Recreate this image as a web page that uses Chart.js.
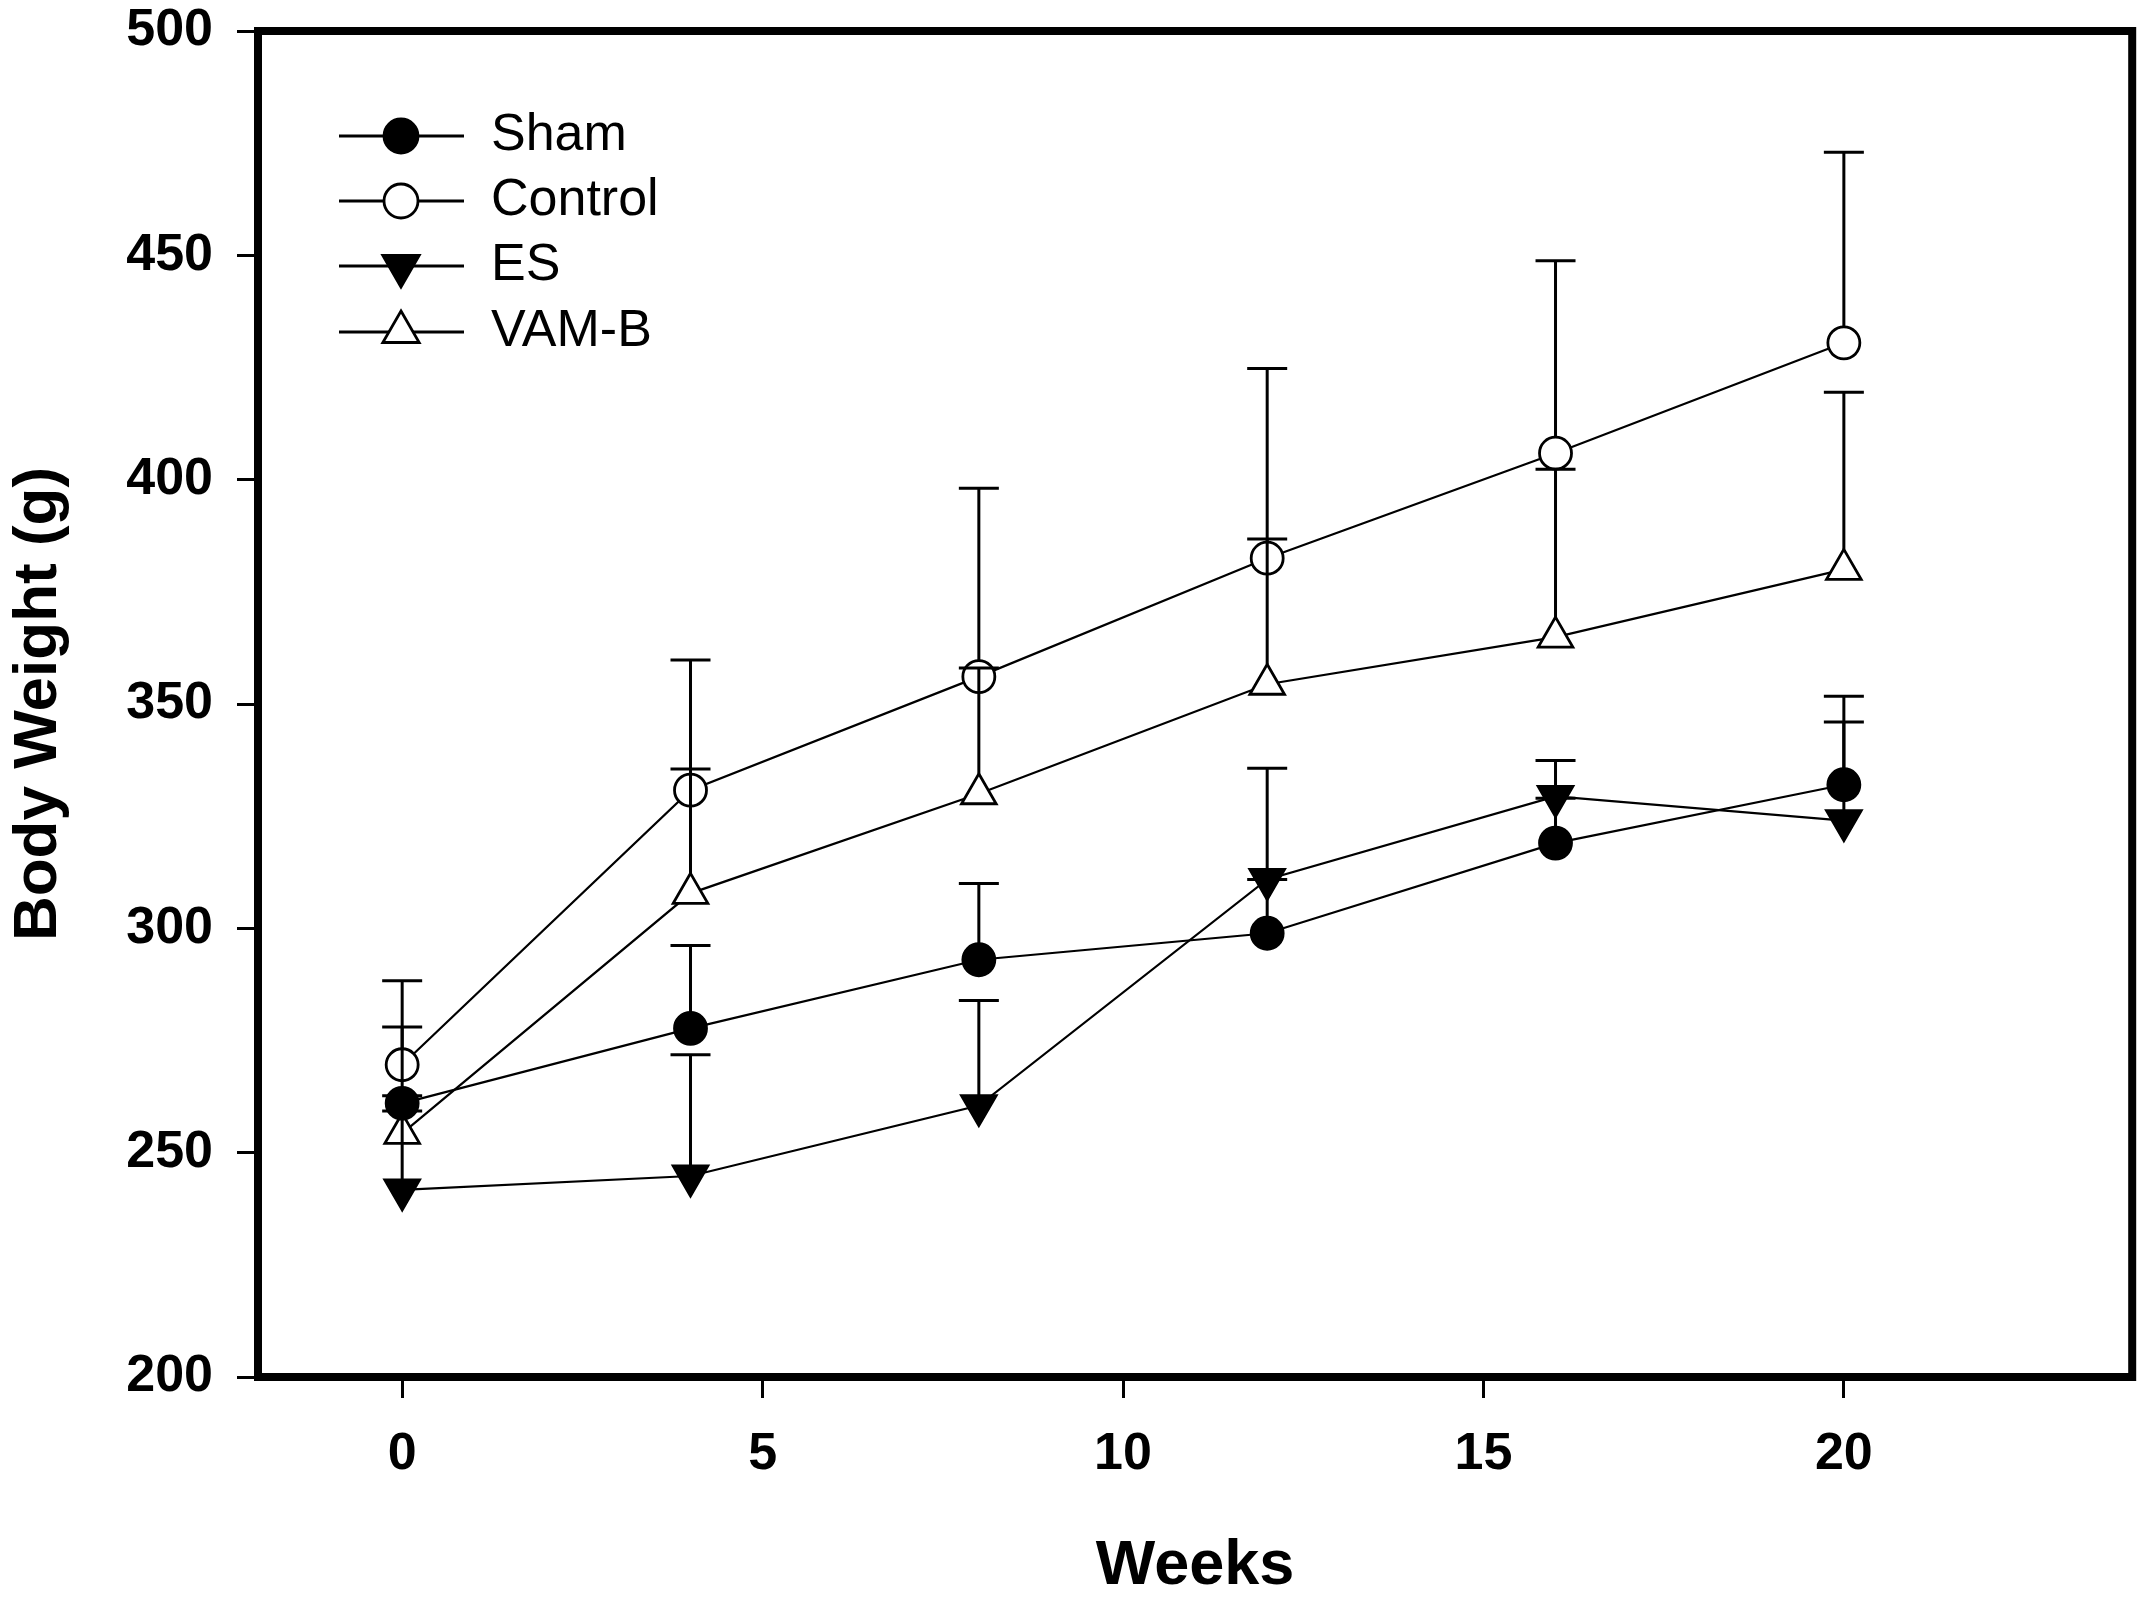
<!DOCTYPE html>
<html>
<head>
<meta charset="utf-8">
<script src="https://cdn.jsdelivr.net/npm/chart.js@4/dist/chart.umd.min.js"></script>
<style>
  html, body { margin: 0; padding: 0; background: #fff; }
  canvas { display: block; }
</style>
</head>
<body>
<canvas id="weightChart" width="2155" height="1604"></canvas>
<script>
// DATA
const weeks = [0, 4, 8, 12, 16, 20];
const seriesNames = ['Sham', 'Control', 'ES', 'VAM-B'];

const sham    = [261.0, 277.7, 293.0, 298.9, 319.0, 332.0];
const control = [269.6, 330.8, 356.1, 382.5, 405.9, 430.5];
const es      = [241.7, 244.8, 260.5, 310.9, 329.4, 324.0];
const vamb    = [254.3, 307.8, 330.0, 354.4, 364.9, 380.0];

// upper error (SEM), only the upper half is drawn
const shamErr    = [17.0, 18.5, 17.0, 12.0, 10.0, 19.7];
const controlErr = [18.7, 29.0, 42.0, 42.3, 42.9, 42.5];
const esErr      = [21.0, 27.0, 23.4, 24.8, 8.0, 22.0];
const vambErr    = [5.0, 27.7, 28.0, 32.4, 37.4, 39.5];

const xTicks = [0, 5, 10, 15, 20];
const yTicks = [200, 250, 300, 350, 400, 450, 500];

const FONT = "'Liberation Sans', Arial, sans-serif";

function pts(vals) {
  return vals.map((v, i) => ({ x: weeks[i], y: v }));
}

function series(label, vals, err, style, fill, radius, rotation, gap) {
  return {
    label: label,
    data: pts(vals),
    errors: err,
    barGap: gap,
    borderColor: '#000',
    borderWidth: 2.2,
    backgroundColor: fill,
    pointStyle: style,
    pointRadius: radius,
    pointHoverRadius: radius,
    pointRotation: rotation,
    pointBorderColor: '#000',
    pointBackgroundColor: fill,
    pointBorderWidth: 2.8,
    tension: 0,
    fill: false
  };
}

// ERROR BARS (upper only, drawn from the marker edge up to the cap)
const errorBars = {
  id: 'errorBars',
  afterDatasetsDraw(chart) {
    const ctx = chart.ctx;
    const xs = chart.scales.x, ys = chart.scales.y;
    ctx.save();
    ctx.strokeStyle = '#000';
    ctx.lineWidth = 3;
    ctx.lineCap = 'butt';
    chart.data.datasets.forEach(ds => {
      ds.data.forEach((p, j) => {
        const e = ds.errors[j];
        const x = xs.getPixelForValue(p.x);
        const y0 = ys.getPixelForValue(p.y) - ds.barGap;
        const y1 = ys.getPixelForValue(p.y + e);
        ctx.beginPath();
        if (y1 < y0) {
          ctx.moveTo(x, y0);
          ctx.lineTo(x, y1);
        }
        ctx.moveTo(x - 20, y1);
        ctx.lineTo(x + 20, y1);
        ctx.stroke();
      });
    });
    ctx.restore();
  }
};

// FRAME round the plot area
const frame = {
  id: 'frame',
  afterDraw(chart) {
    const { ctx, chartArea: a } = chart;
    ctx.save();
    ctx.strokeStyle = '#000';
    ctx.lineWidth = 8;
    ctx.lineJoin = 'miter';
    ctx.strokeRect(a.left, a.top, a.right - a.left, a.bottom - a.top);
    ctx.restore();
  }
};

// LEGEND (line - marker - line, inside the top left corner)
const insideLegend = {
  id: 'insideLegend',
  afterDraw(chart) {
    const ctx = chart.ctx;
    const rows = [136, 201, 266, 332];
    ctx.save();
    chart.data.datasets.forEach((ds, i) => {
      const y = rows[i];
      ctx.strokeStyle = '#000';
      ctx.lineWidth = 3;
      ctx.beginPath();
      ctx.moveTo(339, y);
      ctx.lineTo(464, y);
      ctx.stroke();
      ctx.fillStyle = ds.pointBackgroundColor;
      ctx.strokeStyle = '#000';
      ctx.lineWidth = 2.8;
      Chart.helpers.drawPoint(ctx, {
        pointStyle: ds.pointStyle,
        rotation: ds.pointRotation,
        radius: ds.pointRadius + 1,
        borderWidth: 2.8
      }, 401, y);
      ctx.fillStyle = '#000';
      ctx.font = '52px ' + FONT;
      ctx.textAlign = 'left';
      ctx.textBaseline = 'middle';
      ctx.fillText(seriesNames[i], 491, y);
    });
    ctx.restore();
  }
};

const ctx = document.getElementById('weightChart').getContext('2d');
new Chart(ctx, {
  type: 'line',
  data: {
    datasets: [
      series(seriesNames[0], sham, shamErr, 'circle', '#000', 16, 0, 16),
      series(seriesNames[1], control, controlErr, 'circle', '#fff', 16, 0, 16),
      series(seriesNames[2], es, esErr, 'triangle', '#000', 20, 180, 10),
      series(seriesNames[3], vamb, vambErr, 'triangle', '#fff', 20, 0, 20)
    ]
  },
  options: {
    responsive: false,
    devicePixelRatio: 1,
    animation: false,
    events: [],
    layout: { padding: { top: 31, right: 17, left: 0, bottom: 0 } },
    plugins: {
      legend: { display: false },
      tooltip: { enabled: false }
    },
    scales: {
      x: {
        type: 'linear',
        min: -2,
        max: 24,
        afterBuildTicks: s => { s.ticks = xTicks.map(v => ({ value: v })); },
        afterFit: s => { s.height = 227; s.paddingLeft = 0; s.paddingRight = 0; },
        border: { display: false },
        grid: {
          drawOnChartArea: false,
          drawTicks: true,
          tickLength: 21,
          lineWidth: 3,
          color: '#000',
          tickColor: '#000'
        },
        ticks: {
          color: '#000',
          padding: 25,
          maxRotation: 0,
          font: { family: FONT, size: 52, weight: 'bold' }
        },
        title: {
          display: true,
          text: 'Weeks',
          color: '#000',
          padding: { top: 0, bottom: 0 },
          font: { family: FONT, size: 63, weight: 'bold' }
        }
      },
      y: {
        type: 'linear',
        min: 200,
        max: 500,
        afterBuildTicks: s => { s.ticks = yTicks.map(v => ({ value: v })); },
        afterFit: s => { s.width = 258; s.paddingTop = 0; s.paddingBottom = 0; },
        border: { display: false },
        grid: {
          drawOnChartArea: false,
          drawTicks: true,
          tickLength: 21,
          lineWidth: 3,
          color: '#000',
          tickColor: '#000'
        },
        ticks: {
          color: '#000',
          padding: 24,
          font: { family: FONT, size: 52, weight: 'bold' }
        },
        title: {
          display: true,
          text: 'Body Weight (g)',
          color: '#000',
          padding: { top: 2, bottom: 0 },
          font: { family: FONT, size: 62, weight: 'bold' }
        }
      }
    }
  },
  plugins: [errorBars, frame, insideLegend]
});
</script>
</body>
</html>
